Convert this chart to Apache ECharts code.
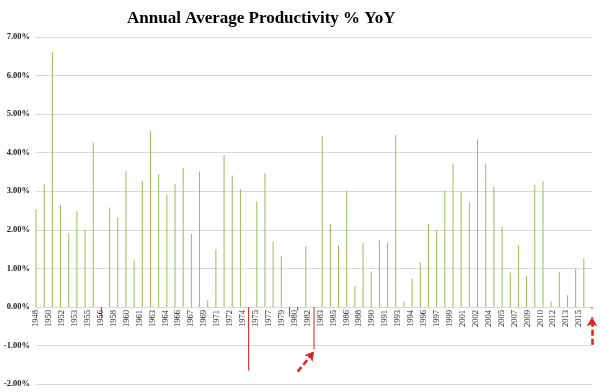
<!DOCTYPE html>
<html>
<head>
<meta charset="utf-8">
<script src="https://cdn.jsdelivr.net/npm/echarts@6/dist/echarts.min.js"></script>
<style>html,body{margin:0;padding:0;background:#fff}#c{width:600px;height:392px}</style>
</head>
<body>
<div id="c"></div>
<script>
const years = ['1948','1949','1950','1951','1952','1953','1954','1955','1956','1957','1958','1959',
  '1960','1961','1962','1963','1964','1965','1966','1967','1968','1969','1970','1971','1972','1973',
  '1974','1975','1976','1977','1978','1979','1980','1981','1982','1983','1984','1985','1986','1987',
  '1988','1989','1990','1991','1992','1993','1994','1995','1996','1997','1998','1999','2000','2001',
  '2002','2003','2004','2005','2006','2007','2008','2009','2010','2011','2012','2013','2014','2015','2016'];
const productivity = [2.54,3.19,6.62,2.65,1.91,2.48,2.00,4.26,-0.30,2.58,2.32,3.52,
  1.20,3.27,4.56,3.44,2.91,3.19,3.61,1.90,3.51,0.18,1.49,3.94,3.41,3.06,
  -1.65,2.74,3.47,1.69,1.32,-0.25,-0.10,1.58,-1.10,4.43,2.15,1.59,3.01,0.54,
  1.65,0.92,1.73,1.67,4.46,0.14,0.73,1.15,2.15,1.99,3.02,3.71,2.98,2.70,
  4.34,3.71,3.12,2.08,0.89,1.59,0.81,3.16,3.26,0.14,0.91,0.30,0.99,1.26,-0.05];
const tickLabels = ['1948','1950','1952','1953','1955','1956','1958','1960','1961','1963','1964',
  '1966','1967','1969','1971','1972','1974','1975','1977','1979','1980','1982','1983','1985','1986',
  '1988','1990','1991','1993','1994','1996','1997','1999','2001','2002','2004','2005','2007','2009',
  '2010','2012','2013','2015',''];
const arrow1 = [['1980', -1.68], ['1982', -1.16]];
const arrow2 = [['2016', -0.98], ['2016', -0.27]];

const GREEN = '#9bbb59', RED = '#e0201b';
const chart = echarts.init(document.getElementById('c'), null, {renderer: 'canvas'});
chart.setOption({
  animation: false,
  title: {
    text: 'Annual Average Productivity % YoY',
    left: 122, top: 5,
    textStyle: {fontFamily: 'Liberation Serif', fontWeight: 'bold', fontSize: 17, color: '#000'}
  },
  grid: {left: 36, right: 8, top: 37, bottom: 8, containLabel: false, outerBoundsMode: 'none'},
  xAxis: [{
    type: 'category', data: tickLabels, boundaryGap: false, position: 'bottom', offset: -77,
    axisLine: {show: false, onZero: false},
    axisTick: {show: false},
    axisLabel: {interval: 0, rotate: 90, margin: 3, fontFamily: 'Liberation Serif',
      fontSize: 8.5, color: '#222'},
    splitLine: {show: false}
  }, {
    type: 'category', data: years, boundaryGap: false, position: 'bottom',
    axisLine: {show: false, onZero: false},
    axisTick: {show: false}, axisLabel: {show: false}, splitLine: {show: false}
  }],
  yAxis: {
    type: 'value', min: -2, max: 7, interval: 1,
    axisLine: {show: false}, axisTick: {show: false},
    splitLine: {lineStyle: {color: '#d9d9d9', width: 1}},
    axisLabel: {formatter: v => v.toFixed(2) + '%', fontFamily: 'Liberation Serif',
      fontWeight: 'bold', fontSize: 8.5, color: '#222', margin: 6}
  },
  series: [{
    type: 'bar', xAxisIndex: 1, data: productivity, barWidth: 1, clip: false,
    itemStyle: {color: p => (p.value < 0 ? RED : GREEN)},
    markLine: {
      silent: true, symbol: ['none', 'arrow'], symbolSize: [8, 9],
      label: {show: false},
      lineStyle: {color: RED, width: 2.5, type: [6, 3]},
      data: [
        [{coord: arrow1[0]}, {coord: arrow1[1]}],
        [{coord: arrow2[0]}, {coord: arrow2[1]}]
      ]
    }
  }]
});
</script>
</body>
</html>
